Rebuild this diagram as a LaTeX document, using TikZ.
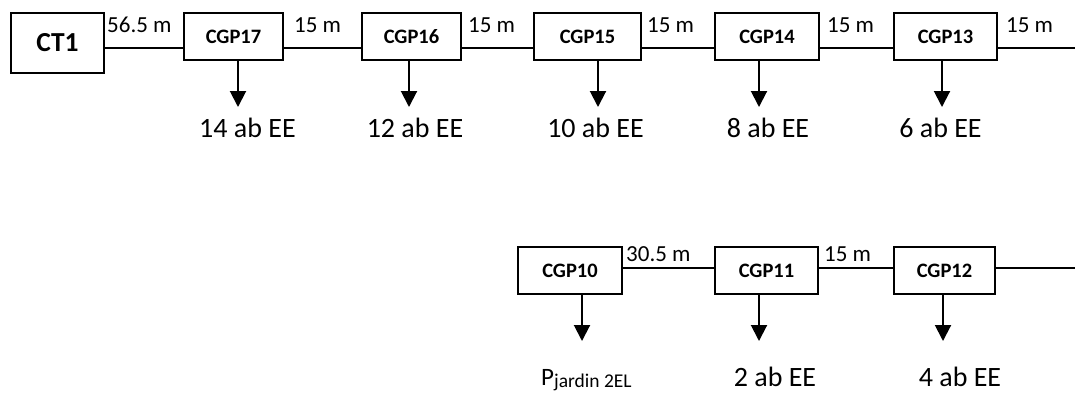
\documentclass[tikz,border=0pt]{standalone}
\usepackage{fontspec}
\setmainfont{Carlito}
\usetikzlibrary{arrows.meta}
\begin{document}
\begin{tikzpicture}[x=1pt,y=-1pt,
  box/.style={draw, line width=1.8pt, inner sep=0pt, minimum height=47pt,
    font=\fontsize{20.5}{24}\selectfont\bfseries},
  wire/.style={line width=1.4pt},
  feed/.style={line width=2pt, -{Triangle[width=16pt,length=16pt]}},
  dist/.style={anchor=base west, inner sep=0pt, font=\fontsize{23}{27}\selectfont},
  load/.style={anchor=base, inner sep=0pt, font=\fontsize{28}{32}\selectfont}]
\useasboundingbox[fill=white] (0,0) rectangle (1075,392);

% top row
\node[box, minimum width=93pt, minimum height=60pt, font=\fontsize{27.5}{32}\selectfont\bfseries] (CT1) at (57.5,43) {CT1};
\node[box, minimum width=99pt] (G17) at (233.5,36.5) {CGP17};
\node[box, minimum width=99pt] (G16) at (411.5,36.5) {CGP16};
\node[box, minimum width=107pt] (G15) at (587.5,36.5) {CGP15};
\node[box, minimum width=104pt] (G14) at (767,36.5) {CGP14};
\node[box, minimum width=103pt] (G13) at (945.5,36.5) {CGP13};

% bottom row
\node[box, minimum width=104pt] (G10) at (570,270.5) {CGP10};
\node[box, minimum width=103pt] (G11) at (766.5,270.5) {CGP11};
\node[box, minimum width=101pt] (G12) at (944.5,270.5) {CGP12};

\coordinate (tl) at (0,48);
\coordinate (tend) at (1075,48);
\coordinate (bl) at (0,268);
\coordinate (bend) at (1075,268);

\draw[wire] (CT1.east |- tl) -- (G17.west |- tl);
\draw[wire] (G17.east |- tl) -- (G16.west |- tl);
\draw[wire] (G16.east |- tl) -- (G15.west |- tl);
\draw[wire] (G15.east |- tl) -- (G14.west |- tl);
\draw[wire] (G14.east |- tl) -- (G13.west |- tl);
\draw[wire] (G13.east |- tl) -- (tend);

\draw[wire] (G10.east |- bl) -- (G11.west |- bl);
\draw[wire] (G11.east |- bl) -- (G12.west |- bl);
\draw[wire] (G12.east |- bl) -- (bend);

% distance labels
\node[dist] (d1) at (107,32) {56.5 m};
\node[dist] (d2) at (294,32) {15 m};
\node[dist] (d3) at (468,32) {15 m};
\node[dist] (d4) at (647,32) {15 m};
\node[dist] (d5) at (827,32) {15 m};
\node[dist] (d6) at (1006,32) {15 m};
\node[dist] (d7) at (626,261) {30.5 m};
\node[dist] (d8) at (824,261) {15 m};

% feeders
\coordinate (t17) at (238,107);
\coordinate (t16) at (409,107);
\coordinate (t15) at (598,107);
\coordinate (t14) at (759,107);
\coordinate (t13) at (942,107);
\coordinate (t10) at (582,341);
\coordinate (t11) at (759,341);
\coordinate (t12) at (943,341);

\draw[feed] (G17.south -| t17) -- (t17);
\draw[feed] (G16.south -| t16) -- (t16);
\draw[feed] (G15.south -| t15) -- (t15);
\draw[feed] (G14.south -| t14) -- (t14);
\draw[feed] (G13.south -| t13) -- (t13);
\draw[feed] (G10.south -| t10) -- (t10);
\draw[feed] (G11.south -| t11) -- (t11);
\draw[feed] (G12.south -| t12) -- (t12);

% load labels
\node[load] (l17) at (247.5,137) {14 ab EE};
\node[load] (l16) at (415,137) {12 ab EE};
\node[load] (l15) at (595.5,137) {10 ab EE};
\node[load] (l14) at (768,137) {8 ab EE};
\node[load] (l13) at (940.5,137) {6 ab EE};
\node[load] (l11) at (775,386) {2 ab EE};
\node[load] (l12) at (960,386) {4 ab EE};
\node[anchor=base west, inner sep=0pt, font=\fontsize{25}{28}\selectfont] (l10) at (541,385)
  {P\raisebox{-2pt}{\fontsize{19.5}{22}\selectfont jardin 2EL}};
\end{tikzpicture}
\end{document}
